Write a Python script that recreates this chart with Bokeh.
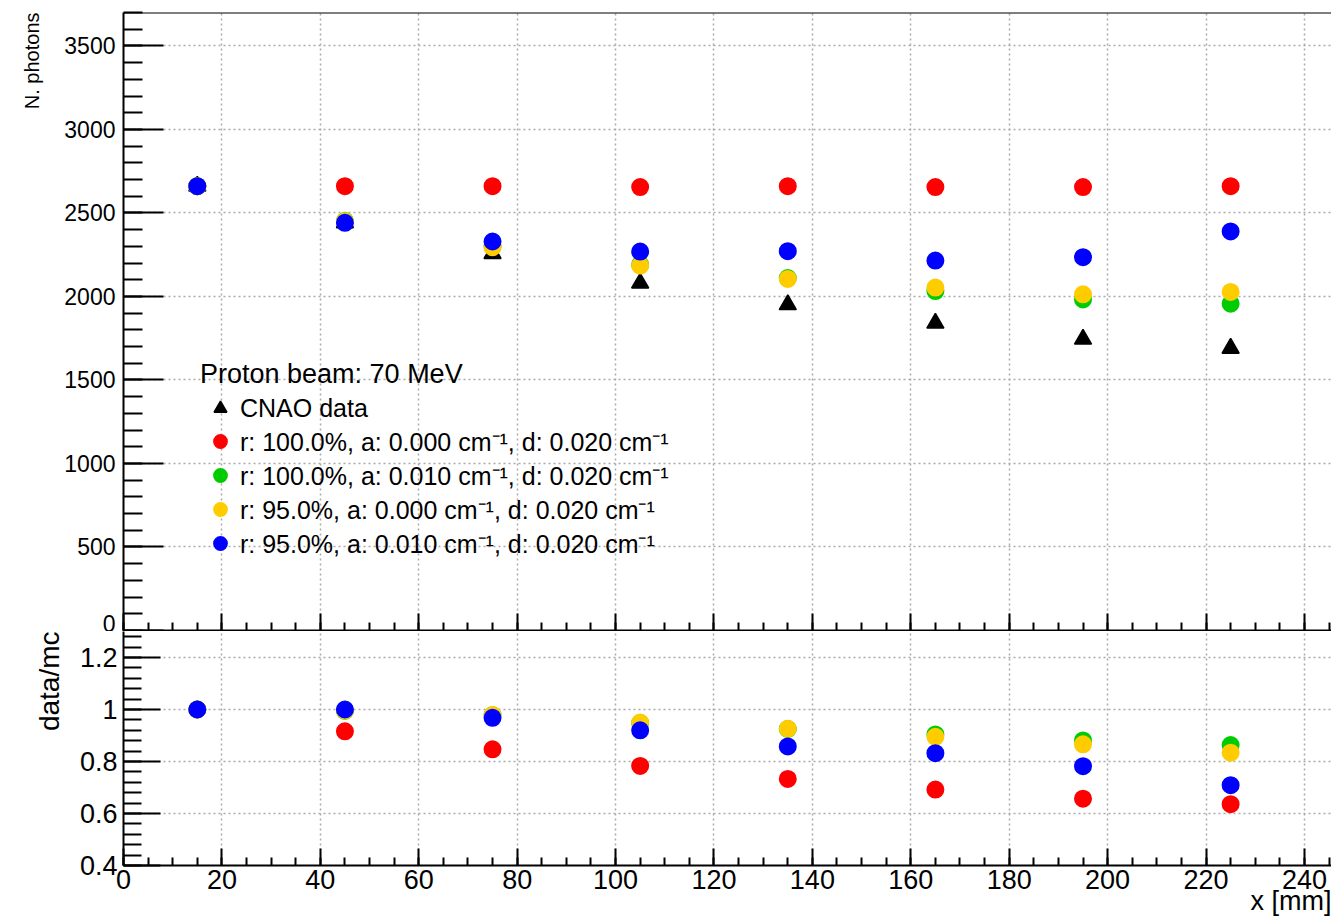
from bokeh.plotting import figure
from bokeh.layouts import column
from bokeh.models import (SingleIntervalTicker, Legend, LegendItem, Span, Title,
                          CustomJSTickFormatter, Range1d, ColumnDataSource)
from bokeh.embed import file_html
from bokeh.resources import INLINE

# ---------------- data ----------------
x_mm = [15, 45, 75, 105, 135, 165, 195, 225]
cnao_data = [2660, 2441, 2257, 2080, 1951, 1840, 1744, 1690]
mc_r100_a000 = [2660, 2660, 2660, 2655, 2660, 2655, 2655, 2660]
mc_r100_a010 = [2660, 2452, 2300, 2190, 2110, 2032, 1982, 1957]
mc_r95_a000 = [2660, 2450, 2295, 2185, 2105, 2053, 2013, 2027]
mc_r95_a010 = [2660, 2441, 2329, 2269, 2271, 2215, 2235, 2389]

ratio_r100_a000 = [1.0, 0.916, 0.847, 0.783, 0.733, 0.692, 0.657, 0.636]
ratio_r100_a010 = [1.0, 0.995, 0.978, 0.948, 0.925, 0.904, 0.881, 0.863]
ratio_r95_a000 = [1.0, 0.996, 0.979, 0.950, 0.926, 0.895, 0.866, 0.834]
ratio_r95_a010 = [1.0, 1.0, 0.968, 0.920, 0.858, 0.832, 0.782, 0.709]

legend_title = "Proton beam: 70 MeV"
data_label = "CNAO data"
mc_labels = [
    "r: 100.0%, a: 0.000 cm\u207b\u00b9, d: 0.020 cm\u207b\u00b9",
    "r: 100.0%, a: 0.010 cm\u207b\u00b9, d: 0.020 cm\u207b\u00b9",
    "r: 95.0%, a: 0.000 cm\u207b\u00b9, d: 0.020 cm\u207b\u00b9",
    "r: 95.0%, a: 0.010 cm\u207b\u00b9, d: 0.020 cm\u207b\u00b9",
]
mc_colors = ["#ff0000", "#00cc00", "#ffcc00", "#0000ff"]
y_title_top = "N. photons"
y_title_bottom = "data/mc"
x_title = "x [mm]"

FONT = "Liberation Sans"
GRID_COLOR = "#aaaaaa"

x_range = Range1d(0, 245.5)
y_top = Range1d(0, 3700)
y_bot = Range1d(0.4, 1.3)

blank = CustomJSTickFormatter(code="return '';")


def style_axis(ax, major_in, minor_in, font_size):
    ax.axis_line_width = 2
    ax.axis_line_color = "black"
    ax.major_tick_in = major_in
    ax.major_tick_out = 0
    ax.minor_tick_in = minor_in
    ax.minor_tick_out = 0
    ax.major_tick_line_width = 2
    ax.minor_tick_line_width = 2
    ax.major_label_text_font = FONT
    ax.major_label_text_font_size = font_size
    ax.major_label_text_color = "black"


def style_grid(p):
    for g in (p.xgrid, p.ygrid):
        g.grid_line_color = GRID_COLOR
        g.grid_line_dash = "2 3"
        g.grid_line_width = 1.5


def side_title(text, size, standoff):
    return Title(text=text, align="right", text_font=FONT,
                 text_font_size=size, text_font_style="normal",
                 text_color="black", standoff=standoff)


# ---------------- top panel ----------------
p1 = figure(width=1331, height=631, x_range=x_range, y_range=y_top,
            output_backend="svg", toolbar_location=None,
            min_border_left=123, min_border_right=0, min_border_top=12,
            min_border_bottom=1)
p1.outline_line_color = None
p1.background_fill_color = "white"
p1.border_fill_color = "white"

p1.xaxis.ticker = SingleIntervalTicker(interval=20, num_minor_ticks=4)
style_axis(p1.xaxis[0], 17, 8, "12px")
p1.xaxis.formatter = blank
p1.xaxis.major_label_standoff = 0

p1.yaxis.ticker = SingleIntervalTicker(interval=500, num_minor_ticks=5)
style_axis(p1.yaxis[0], 40, 19, "23px")
p1.yaxis.major_label_standoff = 8

p1.add_layout(Span(location=y_top.end, dimension="width",
                   line_color="black", line_width=2))
p1.add_layout(side_title(y_title_top, "20px", 37), "left")
style_grid(p1)

src_top = ColumnDataSource(dict(x=x_mm, data=cnao_data, m0=mc_r100_a000,
                                m1=mc_r100_a010, m2=mc_r95_a000, m3=mc_r95_a010))
r_data = p1.scatter("x", "data", source=src_top, marker="triangle", size=17,
                    fill_color="black", line_color="black", line_width=1.5)
mc_renderers = []
for i, col in enumerate(["m0", "m1", "m2", "m3"]):
    r = p1.scatter("x", col, source=src_top, marker="circle", size=16,
                   fill_color=mc_colors[i], line_color=mc_colors[i], line_width=2)
    mc_renderers.append(r)

items = [LegendItem(label=data_label, renderers=[r_data])]
for lab, r in zip(mc_labels, mc_renderers):
    items.append(LegendItem(label=lab, renderers=[r]))

legend = Legend(items=items, title=legend_title, location=(77, 70),
                border_line_color=None, background_fill_alpha=0,
                label_text_font=FONT, label_text_font_size="25px",
                label_text_color="black",
                title_text_font=FONT, title_text_font_size="27px",
                title_text_color="black",
                title_text_font_style="normal", title_standoff=2,
                glyph_width=40, glyph_height=32, label_height=32,
                spacing=0, padding=0, margin=0, label_standoff=0)
p1.add_layout(legend)

# ---------------- bottom panel ----------------
p2 = figure(width=1331, height=287, x_range=x_range, y_range=y_bot,
            output_backend="svg", toolbar_location=None,
            min_border_left=123, min_border_right=0, min_border_top=0,
            min_border_bottom=53)
p2.outline_line_color = None
p2.background_fill_color = "white"
p2.border_fill_color = "white"

p2.xaxis.ticker = SingleIntervalTicker(interval=20, num_minor_ticks=4)
style_axis(p2.xaxis[0], 17, 8, "27px")
p2.xaxis.major_label_standoff = 4

p2.yaxis.ticker = SingleIntervalTicker(interval=0.2, num_minor_ticks=5)
style_axis(p2.yaxis[0], 37, 18, "27px")
p2.yaxis.formatter = CustomJSTickFormatter(
    code="return (Math.round(tick*10)/10).toString();")
p2.yaxis.major_label_standoff = 6
style_grid(p2)

p2.add_layout(side_title(y_title_bottom, "28px", 24), "left")
p2.add_layout(side_title(x_title, "27px", -16), "below")

src_bot = ColumnDataSource(dict(x=x_mm, q0=ratio_r100_a000, q1=ratio_r100_a010,
                                q2=ratio_r95_a000, q3=ratio_r95_a010))
for i, col in enumerate(["q0", "q1", "q2", "q3"]):
    p2.scatter("x", col, source=src_bot, marker="circle", size=16,
               fill_color=mc_colors[i], line_color=mc_colors[i], line_width=2)

layout = column(p1, p2, spacing=0)
open("out.html", "w").write(file_html(layout, INLINE))
